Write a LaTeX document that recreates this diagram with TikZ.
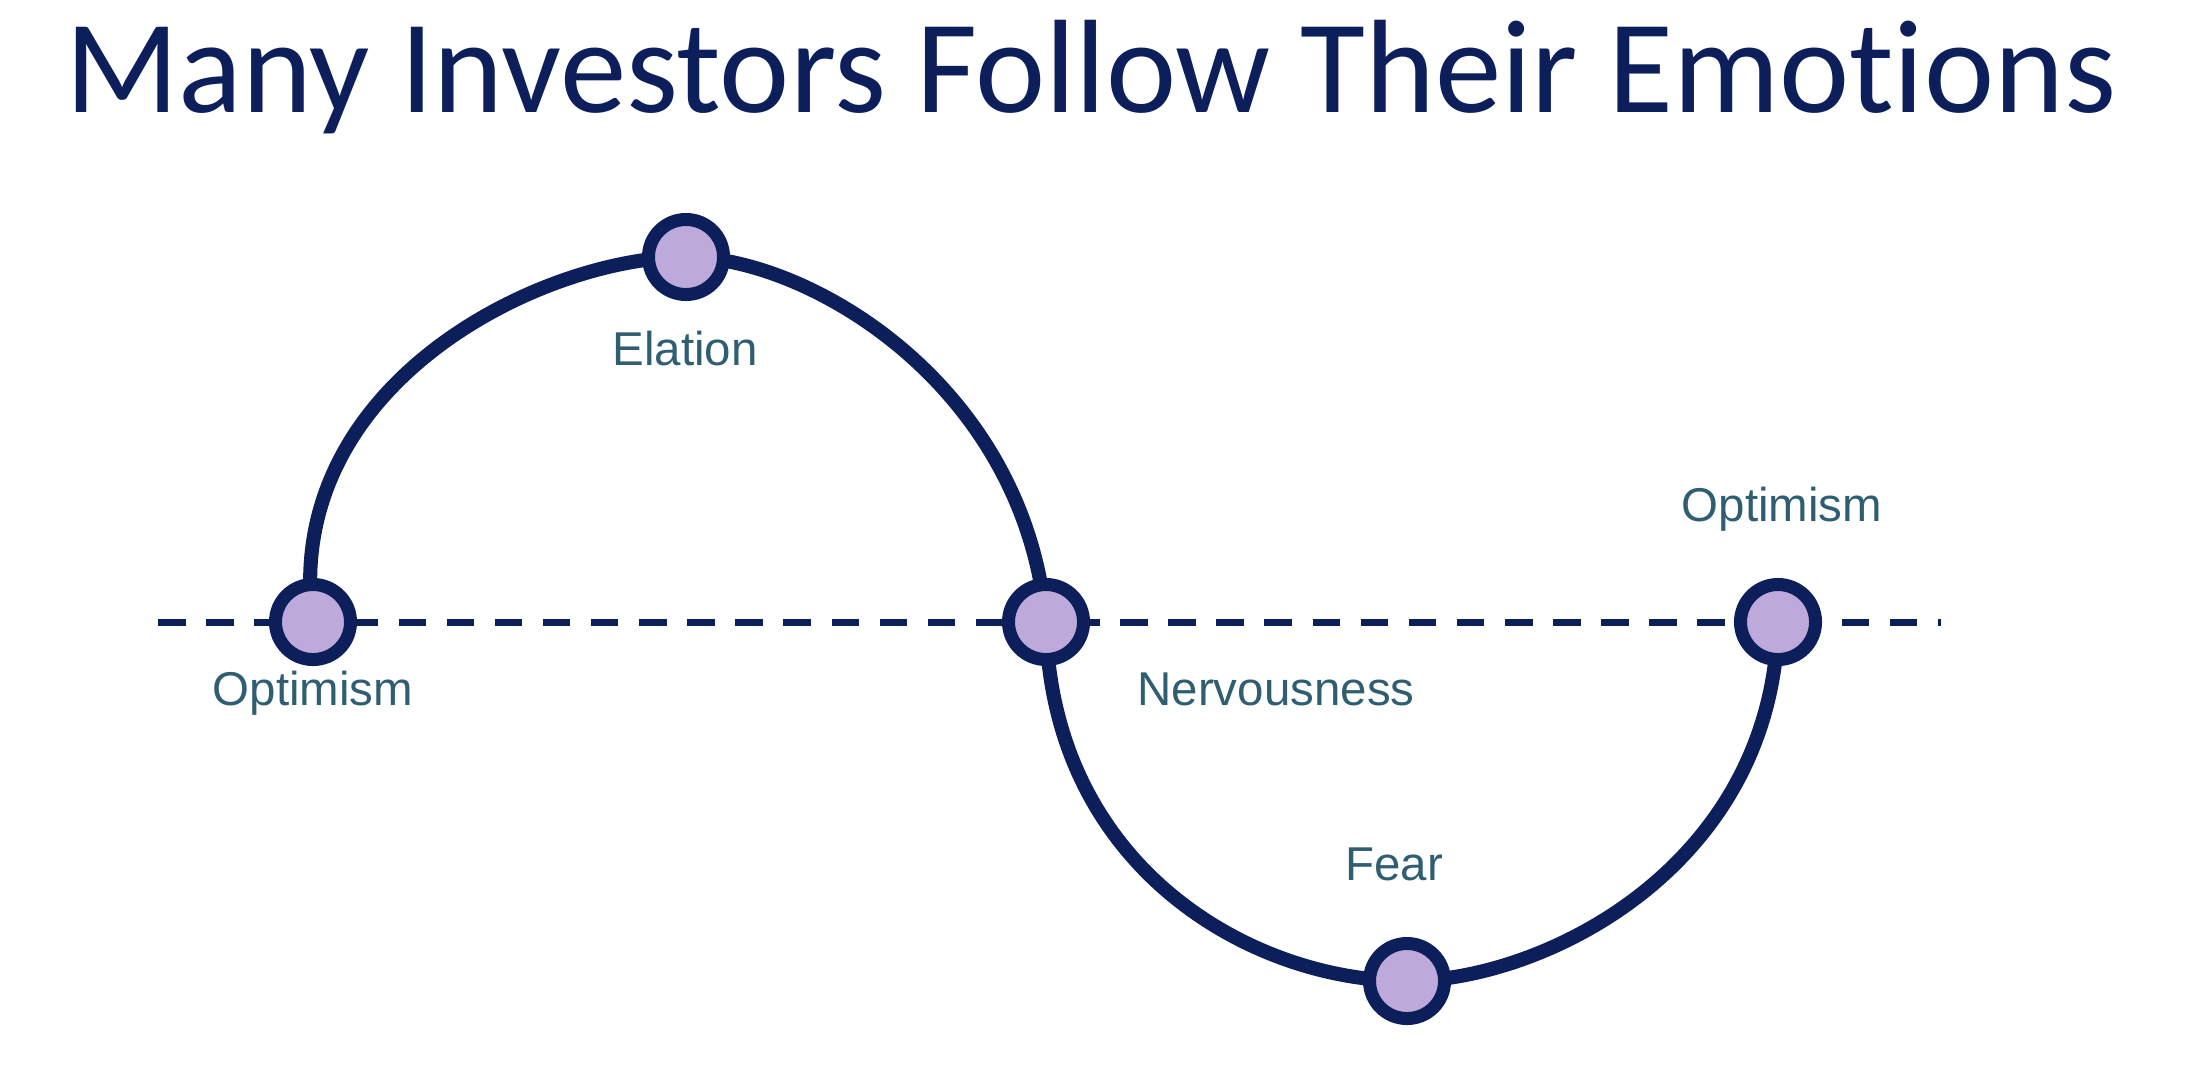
\documentclass[tikz,border=0pt]{standalone}
\usepackage{fontspec}
\setmainfont{Liberation Sans}
\newfontfamily\titlefont[Ligatures=NoCommon]{Carlito}
\usetikzlibrary{backgrounds}

\definecolor{navy}{HTML}{0C1F5A}
\definecolor{lavender}{HTML}{BDAADA}
\definecolor{slate}{HTML}{2F5E72}

\tikzset{
  mood/.style={circle, draw=navy, fill=lavender, line width=3.7pt,
    minimum size=0.75cm, inner sep=0pt},
  wave/.style={draw=navy, line width=4pt},
  feeling/.style={text=slate, font=\fontsize{13.5}{16}\selectfont,
    anchor=base, inner sep=0pt},
}

\begin{document}
\begin{tikzpicture}[x=0.01cm, y=-0.01cm]
  \useasboundingbox (0,0) rectangle (2192,1066);

  % Title
  \node[text=navy, font=\titlefont\fontsize{37.8}{45}\selectfont, anchor=base]
    (title) at (1091,112) {Many Investors Follow Their Emotions};

  % Stages of the cycle
  \node[mood] (optA) at (313,622) {};
  \node[mood] (elation) at (686,257) {};
  \node[mood] (nervous) at (1046,622) {};
  \node[mood] (fear) at (1407,981) {};
  \node[mood] (optB) at (1778,622) {};

  % Labels
  \node[feeling] (optA-lbl) at (313,705) {Optimism};
  \node[feeling] (elation-lbl) at (685,365) {Elation};
  \node[feeling] (nervous-lbl) at (1276,705) {Nervousness};
  \node[feeling] (fear-lbl) at (1394,880) {Fear};
  \node[feeling] (optB-lbl) at (1782,521) {Optimism};

  % Zero line and emotion curve (behind the circles)
  \begin{scope}[on background layer]
    \coordinate (zero-l) at (158,622);
    \coordinate (zero-r) at (1941,622);
    \draw[navy, line width=2pt, dash pattern=on 7.82pt off 5.86pt] (zero-l) -- (zero-r);

    \draw[wave] (optA.center) .. controls (280,386) and (540,257) .. (elation.center)
      .. controls (810,257) and (1025,386) .. (nervous.center)
      .. controls (1050,866) and (1250,981) .. (fear.center)
      .. controls (1545,981) and (1773,866) .. (optB.center);
  \end{scope}
\end{tikzpicture}
\end{document}
